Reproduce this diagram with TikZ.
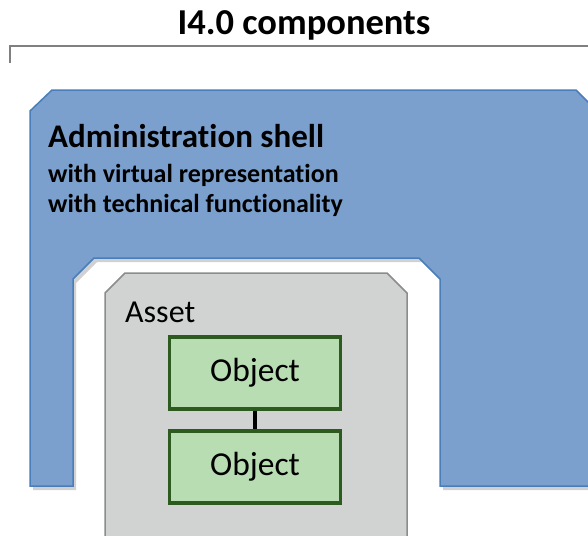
\documentclass[tikz,border=0pt]{standalone}
\usepackage{fontspec}
\setmainfont{Carlito}[Ligatures=NoCommon]
\usetikzlibrary{shadows}
\definecolor{shellfill}{RGB}{123,160,205}
\definecolor{shelldraw}{RGB}{74,126,187}
\definecolor{assetfill}{RGB}{209,210,210}
\definecolor{assetdraw}{RGB}{140,140,140}
\definecolor{objfill}{RGB}{185,221,179}
\definecolor{objdraw}{RGB}{45,90,30}
\tikzset{
  shellshape/.style={fill=shellfill, draw=shelldraw, line width=1.5pt,
    drop shadow={shadow xshift=3pt, shadow yshift=-4pt, opacity=0.3, fill=black!60}},
  assetshape/.style={fill=assetfill, draw=assetdraw, line width=1.5pt},
  objbox/.style={fill=objfill, draw=objdraw, line width=3.5pt, minimum width=171pt,
    minimum height=72pt, inner sep=0pt, font=\fontsize{33.5}{38}\selectfont},
  link/.style={line width=3.5pt, draw=black},
  lbl/.style={inner sep=0pt, anchor=base west},
  topline/.style={draw=black!50, line width=1.5pt}
}
\begin{document}
\begin{tikzpicture}[x=1pt,y=-1pt]
\useasboundingbox (0,0) rectangle (588,535);
% title
\node[inner sep=0pt, anchor=base, font=\bfseries\fontsize{36.5}{42}\selectfont] (title) at (304,34.5) {I4.0 components};
\coordinate (tl) at (10,63);
\coordinate (tc) at (10,46);
\coordinate (tr) at (600,46);
\draw[topline] (tl) -- (tc) -- (tr);
% administration shell
\path[shellshape] (30,111) -- (52,90) -- (576,90) -- (598,112) -- (598,486) -- (440,486)
  -- (440,279) -- (419,258) -- (94,258) -- (73,279) -- (73,486) -- (30,486) -- cycle;
\node[lbl, font=\bfseries\fontsize{33}{38}\selectfont] (shell) at (48,147) {Administration shell};
\node[lbl, font=\bfseries\fontsize{26}{30}\selectfont] (virt) at (48,182) {with virtual representation};
\node[lbl, font=\bfseries\fontsize{26}{30}\selectfont] (tech) at (48,212) {with technical functionality};
% asset
\path[assetshape] (105,293) -- (125,273) -- (387,273) -- (407,293) -- (407,550) -- (105,550) -- cycle;
\node[lbl, font=\fontsize{32}{38}\selectfont] (asset) at (125,322) {Asset};
% objects
\node[objbox] (obj1) at (255,373) {Object};
\node[objbox] (obj2) at (255,467) {Object};
\draw[link] (obj1) -- (obj2);
\end{tikzpicture}
\end{document}
